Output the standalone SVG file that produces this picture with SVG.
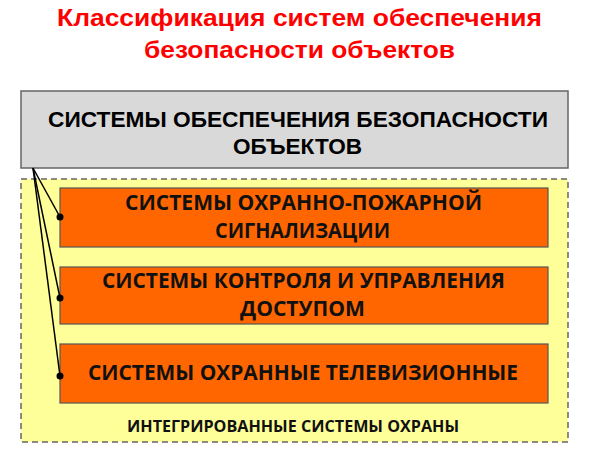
<svg xmlns="http://www.w3.org/2000/svg" width="591" height="456" viewBox="0 0 591 456">
<style>
.title{font-family:"Liberation Sans",Arial,sans-serif;font-weight:bold;font-size:23px;fill:#ff0000;text-anchor:middle}
.head{font-family:"Liberation Sans",Arial,sans-serif;font-weight:bold;font-size:22.5px;fill:#000;text-anchor:middle}
.ob{fill:#ff6600;stroke:#555;stroke-width:1.2}
.ot{font-family:"Open Sans","Liberation Sans",sans-serif;font-weight:bold;font-size:21px;fill:#111;text-anchor:middle}
.lbl{font-family:"Open Sans","Liberation Sans",sans-serif;font-weight:bold;font-size:16px;fill:#111;text-anchor:middle}
.con{stroke:#000;stroke-width:1.5;fill:none}
</style>
<rect width="591" height="456" fill="#fff"/>
<g id="title">
<text class="title" x="299.5" y="26" textLength="485" lengthAdjust="spacingAndGlyphs">Классификация систем обеспечения</text>
<text class="title" x="299.5" y="58" textLength="311" lengthAdjust="spacingAndGlyphs">безопасности объектов</text>
</g>
<g id="integrated">
<rect x="21" y="179" width="547" height="263" fill="#ffff99" stroke="#666" stroke-width="1.5" stroke-dasharray="6,4"/>
<text class="lbl" x="293" y="432" textLength="332" lengthAdjust="spacingAndGlyphs">ИНТЕГРИРОВАННЫЕ СИСТЕМЫ ОХРАНЫ</text>
</g>
<g id="root">
<rect x="21" y="91" width="547" height="77" fill="#d9d9d9" stroke="#666" stroke-width="1.5"/>
<text class="head" x="298" y="127" textLength="500" lengthAdjust="spacingAndGlyphs">СИСТЕМЫ ОБЕСПЕЧЕНИЯ БЕЗОПАСНОСТИ</text>
<text class="head" x="297.5" y="154" textLength="129" lengthAdjust="spacingAndGlyphs">ОБЪЕКТОВ</text>
</g>
<g id="n1">
<rect class="ob" x="60" y="188" width="488" height="59"/>
<text class="ot" x="303.5" y="210" textLength="357" lengthAdjust="spacingAndGlyphs">СИСТЕМЫ ОХРАННО-ПОЖАРНОЙ</text>
<text class="ot" x="302.5" y="238" textLength="175" lengthAdjust="spacingAndGlyphs">СИГНАЛИЗАЦИИ</text>
</g>
<g id="n2">
<rect class="ob" x="60" y="267" width="488" height="57"/>
<text class="ot" x="303.5" y="288" textLength="403" lengthAdjust="spacingAndGlyphs">СИСТЕМЫ КОНТРОЛЯ И УПРАВЛЕНИЯ</text>
<text class="ot" x="302.5" y="316" textLength="125" lengthAdjust="spacingAndGlyphs">ДОСТУПОМ</text>
</g>
<g id="n3">
<rect class="ob" x="60" y="344" width="488" height="59"/>
<text class="ot" x="303" y="380" textLength="430" lengthAdjust="spacingAndGlyphs">СИСТЕМЫ ОХРАННЫЕ ТЕЛЕВИЗИОННЫЕ</text>
</g>
<g id="connectors">
<line class="con" x1="33" y1="168" x2="60" y2="217"/>
<line class="con" x1="33" y1="168" x2="60" y2="298"/>
<line class="con" x1="33" y1="168" x2="60" y2="376"/>
<circle cx="60" cy="217" r="3.5" fill="#000"/>
<circle cx="60" cy="298" r="3.5" fill="#000"/>
<circle cx="60" cy="376" r="3.5" fill="#000"/>
</g>
</svg>
